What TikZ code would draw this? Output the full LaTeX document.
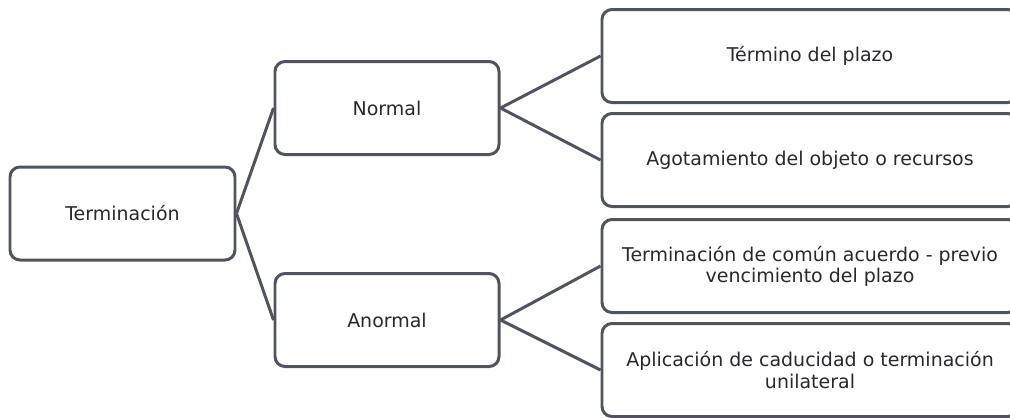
\documentclass[tikz,border=0pt]{standalone}
\usepackage{fontspec}
\setmainfont{DejaVu Sans}
\usepackage{tikz}
\usetikzlibrary{positioning}
\definecolor{boxline}{RGB}{78,84,96}
\definecolor{boxtext}{RGB}{40,40,48}
\tikzset{
  box/.style    ={rectangle,rounded corners=2mm,draw=boxline,line width=1.7pt,
                  fill=white,inner sep=0pt,align=center,text=boxtext,
                  font=\fontsize{10.8}{12}\selectfont},
  rootbox/.style={box,minimum width=45mm,minimum height=18.6mm},
  midbox/.style ={box,minimum width=44.8mm,minimum height=18.6mm},
  leafbox/.style={box,minimum width=83.2mm,minimum height=18.6mm},
  ln/.style     ={draw=boxline,line width=1.7pt},
}

\begin{document}
\begin{tikzpicture}[x=0.2mm, y=-0.2mm]
\clip (0,0) rectangle (1010,417);

%% ---------------- boxes ----------------
\node[rootbox] (term)   at (122.5,213.5) {Terminación};
\node[midbox]  (normal) at (387,108)     {Normal};
\node[midbox]  (anorm)  at (387,320)     {Anormal};

\node[leafbox] (plazo)  at (810,56)  {Término del plazo};
\node[leafbox] (agot)   at (810,160) {Agotamiento del objeto o recursos};
\node[leafbox] (comun)  at (810,266) {Terminación de común acuerdo - previo\\vencimiento del plazo};
\node[leafbox] (caduc)  at (810,370) {Aplicación de caducidad o terminación\\unilateral};

%% ---------------- connectors ----------------
\foreach \u/\v in {term/normal, term/anorm, normal/plazo, normal/agot,
                   anorm/comun, anorm/caduc}{
  \draw[ln] (\u.east) -- (\v.west);
}

\end{tikzpicture}
\end{document}
